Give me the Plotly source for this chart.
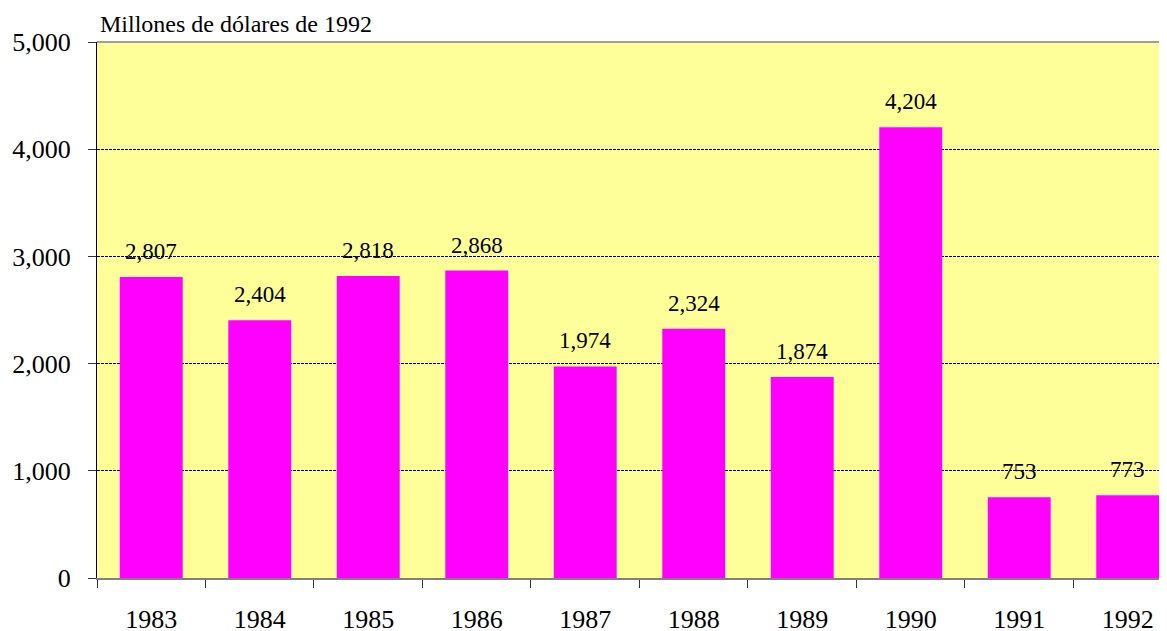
import plotly.graph_objects as go

years = ["1983", "1984", "1985", "1986", "1987", "1988", "1989", "1990", "1991", "1992"]
values = [2807, 2404, 2818, 2868, 1974, 2324, 1874, 4204, 753, 773]
y_ticks = [0, 1000, 2000, 3000, 4000, 5000]
unit_label = "Millones de dólares de 1992"

FONT = "Liberation Serif, Times New Roman, serif"

fig = go.Figure()
fig.add_trace(go.Bar(
    x=years, y=values,
    marker=dict(color="#FF00FF", line=dict(width=0)),
    width=0.58,
    hoverinfo="x+y",
))

for i, v in enumerate(values):
    fig.add_annotation(
        x=i, y=v, text=f"{v:,}", showarrow=False,
        yanchor="bottom", yshift=11,
        font=dict(family=FONT, size=23, color="black"),
    )

fig.add_annotation(
    xref="paper", yref="paper", x=0.0, xshift=1, y=1.0, yshift=3,
    xanchor="left", yanchor="bottom", showarrow=False,
    text=unit_label, font=dict(family=FONT, size=24, color="black"),
)

# top border line
fig.add_shape(type="line", xref="paper", yref="paper", x0=0, x1=1, y0=1, y1=1,
              line=dict(color="#808080", width=1.5))

# page body has an 8px margin: compensate so the plot lands where the reference has it
fig.update_layout(
    width=1159, height=623,
    margin=dict(l=89, r=0, t=34, b=53, autoexpand=False),
    paper_bgcolor="white",
    plot_bgcolor="#FFFF99",
    font=dict(family=FONT, size=22, color="black"),
    showlegend=False,
)

fig.update_xaxes(
    type="category",
    range=[-0.5, 9.362],
    tickson="boundaries",
    ticks="outside", ticklen=8, tickcolor="#333333", tickwidth=1,
    showline=True, linecolor="#808080", linewidth=1.5,
    showgrid=False,
    automargin=False,
    tickfont=dict(family=FONT, size=26, color="black"),
    ticklabelstandoff=17,
)

fig.update_yaxes(
    range=[0, 5000],
    tickvals=y_ticks,
    tickformat=",d",
    ticks="outside", ticklen=8, tickcolor="#333333", tickwidth=1,
    showline=True, linecolor="black", linewidth=1,
    showgrid=True, gridcolor="black", gridwidth=1, griddash="3px,1px",
    zeroline=False,
    automargin=False,
    tickfont=dict(family=FONT, size=26, color="black"),
    ticklabelstandoff=12,
)

fig.write_html("out.html")
